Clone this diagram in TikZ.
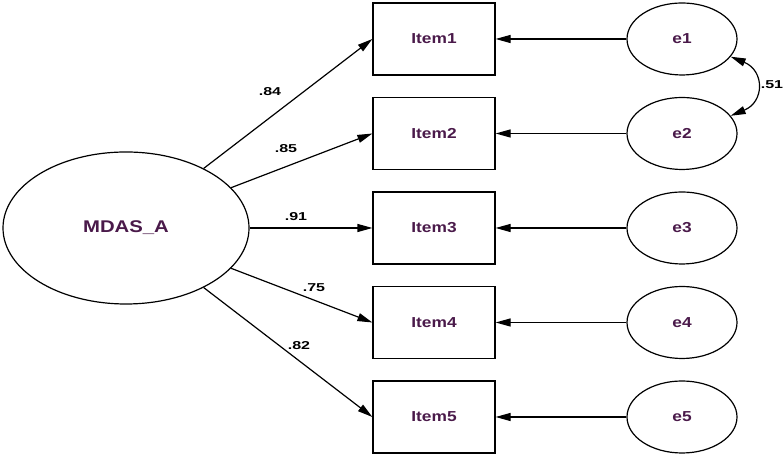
\documentclass[tikz,border=0pt]{standalone}
\usepackage{fontspec}
\setmainfont{Liberation Sans}
\newfontfamily\amosfont[FakeStretch=1.2]{Liberation Sans}
\newfontfamily\coeffont[FakeStretch=1.4]{Liberation Sans}
\usetikzlibrary{arrows.meta,shapes.geometric}

\begin{document}
\begin{tikzpicture}[x=1bp,y=1bp,every node/.style={inner sep=0},>={Triangle[length=15bp,width=8bp]},line width=1.2bp,
  latent/.style={draw,ellipse,text=label,font=\amosfont\fontsize{14.5}{16}\selectfont\bfseries},
  observed/.style={draw,rectangle,minimum width=122bp,minimum height=72bp,text=label,font=\amosfont\fontsize{14.5}{16}\selectfont\bfseries},
  errvar/.style={latent,minimum width=110bp,minimum height=72bp},
  coef/.style={font=\coeffont\fontsize{11.5}{13}\selectfont\bfseries}]
\path[use as bounding box] (0,0) rectangle (784,458);
\definecolor{label}{HTML}{4A1A4A}
\node[latent,minimum width=246bp,minimum height=152bp,font=\amosfont\fontsize{17}{19}\selectfont\bfseries] (mdas) at (126,230) {MDAS\_A};
\foreach \i/\y in {1/419,2/324.5,3/230,4/135.5,5/41}{
  \node[observed] (item\i) at (434,\y) {Item\i};
  \node[errvar] (e\i) at (682,\y) {e\i};
  \draw[->] (mdas) -- (item\i.west);
  \draw[->] (e\i) -- (item\i);
}
\node[coef] (w1) at (270,366) {.84};
\node[coef] (w2) at (286,309) {.85};
\node[coef] (w3) at (296,241) {.91};
\node[coef] (w4) at (314,170) {.75};
\node[coef] (w5) at (299,112) {.82};
\draw[<->] (e1.-20) .. controls +(34,-14) and +(34,14) .. (e2.20);
\node[coef] (r12) at (772,373) {.51};
\end{tikzpicture}
\end{document}
